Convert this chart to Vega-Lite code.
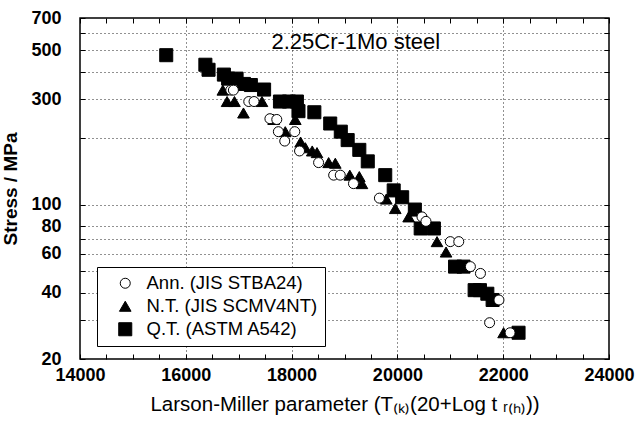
{
  "$schema": "https://vega.github.io/schema/vega-lite/v6.json",
  "width": 529,
  "height": 341,
  "autosize": "none",
  "padding": {"left": 80, "top": 18, "right": 28, "bottom": 62},
  "background": "white",
  "config": {
    "view": {"stroke": "black", "strokeWidth": 1.5},
    "font": "Liberation Sans",
    "text": {"font": "Liberation Sans"},
    "legend": {"title": null, "orient": "none", "legendX": 17, "legendY": 249, "strokeColor": "black", "strokeWidth": 1, "padding": 7, "labelFontSize": 18.5, "labelColor": "black", "labelLimit": 400, "symbolStrokeColor": "black", "symbolStrokeWidth": 1, "rowPadding": 4, "symbolOffset": 12, "labelOffset": 12, "fillColor": "white"}
  },
  "datasets": {
    "pts": [
      {"lmp": 15630, "stress": 475, "type": "Q.T. (ASTM A542)"},
      {"lmp": 16370, "stress": 430, "type": "Q.T. (ASTM A542)"},
      {"lmp": 16430, "stress": 408, "type": "Q.T. (ASTM A542)"},
      {"lmp": 16720, "stress": 388, "type": "Q.T. (ASTM A542)"},
      {"lmp": 16800, "stress": 372, "type": "Q.T. (ASTM A542)"},
      {"lmp": 16960, "stress": 372, "type": "Q.T. (ASTM A542)"},
      {"lmp": 17100, "stress": 352, "type": "Q.T. (ASTM A542)"},
      {"lmp": 17230, "stress": 348, "type": "Q.T. (ASTM A542)"},
      {"lmp": 17480, "stress": 332, "type": "Q.T. (ASTM A542)"},
      {"lmp": 17780, "stress": 293, "type": "Q.T. (ASTM A542)"},
      {"lmp": 17950, "stress": 293, "type": "Q.T. (ASTM A542)"},
      {"lmp": 18100, "stress": 293, "type": "Q.T. (ASTM A542)"},
      {"lmp": 18130, "stress": 265, "type": "Q.T. (ASTM A542)"},
      {"lmp": 18430, "stress": 262, "type": "Q.T. (ASTM A542)"},
      {"lmp": 18730, "stress": 233, "type": "Q.T. (ASTM A542)"},
      {"lmp": 18930, "stress": 214, "type": "Q.T. (ASTM A542)"},
      {"lmp": 19060, "stress": 196, "type": "Q.T. (ASTM A542)"},
      {"lmp": 19280, "stress": 177, "type": "Q.T. (ASTM A542)"},
      {"lmp": 19440, "stress": 157, "type": "Q.T. (ASTM A542)"},
      {"lmp": 19770, "stress": 136, "type": "Q.T. (ASTM A542)"},
      {"lmp": 19930, "stress": 116, "type": "Q.T. (ASTM A542)"},
      {"lmp": 20090, "stress": 108, "type": "Q.T. (ASTM A542)"},
      {"lmp": 20330, "stress": 95, "type": "Q.T. (ASTM A542)"},
      {"lmp": 20440, "stress": 78, "type": "Q.T. (ASTM A542)"},
      {"lmp": 20690, "stress": 78, "type": "Q.T. (ASTM A542)"},
      {"lmp": 21090, "stress": 52.4, "type": "Q.T. (ASTM A542)"},
      {"lmp": 21250, "stress": 52.4, "type": "Q.T. (ASTM A542)"},
      {"lmp": 21460, "stress": 41, "type": "Q.T. (ASTM A542)"},
      {"lmp": 21560, "stress": 41, "type": "Q.T. (ASTM A542)"},
      {"lmp": 21700, "stress": 39.5, "type": "Q.T. (ASTM A542)"},
      {"lmp": 21800, "stress": 37, "type": "Q.T. (ASTM A542)"},
      {"lmp": 22290, "stress": 26.3, "type": "Q.T. (ASTM A542)"},
      {"lmp": 16700, "stress": 330, "type": "N.T. (JIS SCMV4NT)"},
      {"lmp": 16780, "stress": 293, "type": "N.T. (JIS SCMV4NT)"},
      {"lmp": 16920, "stress": 293, "type": "N.T. (JIS SCMV4NT)"},
      {"lmp": 17090, "stress": 260, "type": "N.T. (JIS SCMV4NT)"},
      {"lmp": 17440, "stress": 293, "type": "N.T. (JIS SCMV4NT)"},
      {"lmp": 17660, "stress": 243, "type": "N.T. (JIS SCMV4NT)"},
      {"lmp": 18070, "stress": 243, "type": "N.T. (JIS SCMV4NT)"},
      {"lmp": 17880, "stress": 214, "type": "N.T. (JIS SCMV4NT)"},
      {"lmp": 18170, "stress": 192, "type": "N.T. (JIS SCMV4NT)"},
      {"lmp": 18260, "stress": 181, "type": "N.T. (JIS SCMV4NT)"},
      {"lmp": 18390, "stress": 175, "type": "N.T. (JIS SCMV4NT)"},
      {"lmp": 18480, "stress": 172, "type": "N.T. (JIS SCMV4NT)"},
      {"lmp": 18700, "stress": 155, "type": "N.T. (JIS SCMV4NT)"},
      {"lmp": 18826, "stress": 154, "type": "N.T. (JIS SCMV4NT)"},
      {"lmp": 19100, "stress": 136, "type": "N.T. (JIS SCMV4NT)"},
      {"lmp": 19280, "stress": 134, "type": "N.T. (JIS SCMV4NT)"},
      {"lmp": 19330, "stress": 124.5, "type": "N.T. (JIS SCMV4NT)"},
      {"lmp": 19790, "stress": 106, "type": "N.T. (JIS SCMV4NT)"},
      {"lmp": 19960, "stress": 96, "type": "N.T. (JIS SCMV4NT)"},
      {"lmp": 20212, "stress": 88, "type": "N.T. (JIS SCMV4NT)"},
      {"lmp": 20749, "stress": 68, "type": "N.T. (JIS SCMV4NT)"},
      {"lmp": 20920, "stress": 61, "type": "N.T. (JIS SCMV4NT)"},
      {"lmp": 22007, "stress": 26.3, "type": "N.T. (JIS SCMV4NT)"},
      {"lmp": 16850, "stress": 330, "type": "Ann. (JIS STBA24)"},
      {"lmp": 16900, "stress": 330, "type": "Ann. (JIS STBA24)"},
      {"lmp": 17190, "stress": 293, "type": "Ann. (JIS STBA24)"},
      {"lmp": 17290, "stress": 293, "type": "Ann. (JIS STBA24)"},
      {"lmp": 17590, "stress": 245, "type": "Ann. (JIS STBA24)"},
      {"lmp": 17720, "stress": 243, "type": "Ann. (JIS STBA24)"},
      {"lmp": 17750, "stress": 214, "type": "Ann. (JIS STBA24)"},
      {"lmp": 18060, "stress": 214, "type": "Ann. (JIS STBA24)"},
      {"lmp": 17870, "stress": 194, "type": "Ann. (JIS STBA24)"},
      {"lmp": 18150, "stress": 175, "type": "Ann. (JIS STBA24)"},
      {"lmp": 18510, "stress": 155, "type": "Ann. (JIS STBA24)"},
      {"lmp": 18795, "stress": 136, "type": "Ann. (JIS STBA24)"},
      {"lmp": 18920, "stress": 136, "type": "Ann. (JIS STBA24)"},
      {"lmp": 19170, "stress": 124.5, "type": "Ann. (JIS STBA24)"},
      {"lmp": 19660, "stress": 107, "type": "Ann. (JIS STBA24)"},
      {"lmp": 20465, "stress": 88, "type": "Ann. (JIS STBA24)"},
      {"lmp": 20540, "stress": 84, "type": "Ann. (JIS STBA24)"},
      {"lmp": 21000, "stress": 68, "type": "Ann. (JIS STBA24)"},
      {"lmp": 21160, "stress": 68, "type": "Ann. (JIS STBA24)"},
      {"lmp": 21380, "stress": 52.4, "type": "Ann. (JIS STBA24)"},
      {"lmp": 21570, "stress": 48.8, "type": "Ann. (JIS STBA24)"},
      {"lmp": 21920, "stress": 37, "type": "Ann. (JIS STBA24)"},
      {"lmp": 21743, "stress": 29.2, "type": "Ann. (JIS STBA24)"},
      {"lmp": 22130, "stress": 26.3, "type": "Ann. (JIS STBA24)"}
    ]
  },
  "layer": [
    {
      "data": {"name": "pts"},
      "mark": {"type": "point", "strokeWidth": 1, "opacity": 1},
      "encoding": {
        "x": {
          "field": "lmp", "type": "quantitative",
          "scale": {"domain": [14000, 24000], "nice": false, "zero": false},
          "axis": {
            "orient": "bottom",
            "title": "Larson-Miller parameter  (T₍ₖ₎(20+Log t ᵣ₍ₕ₎))",
            "titleFontSize": 20.5, "titleFontWeight": "normal", "titleColor": "black", "titlePadding": 10,
            "values": [14000,14500,15000,15500,16000,16500,17000,17500,18000,18500,19000,19500,20000,20500,21000,21500,22000,22500,23000,23500,24000],
            "format": "d",
            "labelExpr": "datum.value % 2000 === 0 ? datum.label : ''",
            "labelFontSize": 18, "labelFontWeight": "bold", "labelColor": "black", "labelPadding": 12,
            "labelFlush": false, "labelOverlap": false,
            "domain": false,
            "tickSize": -5, "tickColor": "black", "tickWidth": 1,
            "grid": true,
            "gridColor": {"condition": {"test": "datum.value % 2000 === 0 && datum.value > 14000 && datum.value < 24000", "value": "#222"}, "value": "transparent"},
            "gridDash": [1, 3], "gridWidth": 1
          }
        },
        "y": {
          "field": "stress", "type": "quantitative",
          "scale": {"type": "log", "domain": [20, 700], "nice": false},
          "axis": {
            "orient": "left",
            "title": "Stress  / MPa",
            "titleFontSize": 19, "titleFontWeight": "bold", "titleColor": "black", "titlePadding": 10,
            "values": [20,30,40,50,60,70,80,100,200,300,400,500,600,700],
            "labelExpr": "indexof([20,40,60,80,100,300,500,700], datum.value) >= 0 ? datum.label : ''",
            "format": "d",
            "labelFontSize": 18, "labelFontWeight": "bold", "labelColor": "black", "labelPadding": 24,
            "labelFlush": false, "labelOverlap": false,
            "domain": false,
            "tickSize": -5, "tickColor": "black",
            "grid": true,
            "gridColor": {"condition": {"test": "datum.value > 20 && datum.value < 700", "value": "#222"}, "value": "transparent"},
            "gridDash": [1, 3], "gridWidth": 1
          }
        },
        "shape": {
          "field": "type", "type": "nominal",
          "scale": {"domain": ["Ann. (JIS STBA24)", "N.T. (JIS SCMV4NT)", "Q.T. (ASTM A542)"], "range": ["circle", "triangle-up", "square"]}
        },
        "fill": {
          "field": "type", "type": "nominal",
          "scale": {"domain": ["Ann. (JIS STBA24)", "N.T. (JIS SCMV4NT)", "Q.T. (ASTM A542)"], "range": ["white", "black", "black"]}
        },
        "stroke": {
          "field": "type", "type": "nominal",
          "scale": {"domain": ["Ann. (JIS STBA24)", "N.T. (JIS SCMV4NT)", "Q.T. (ASTM A542)"], "range": ["black", "black", "black"]}
        },
        "size": {
          "field": "type", "type": "nominal",
          "scale": {"domain": ["Ann. (JIS STBA24)", "N.T. (JIS SCMV4NT)", "Q.T. (ASTM A542)"], "range": [100, 170, 150]}
        }
      }
    },
    {
      "data": {"name": "pts"},
      "mark": {"type": "point", "opacity": 0},
      "encoding": {
        "x": {
          "field": "lmp", "type": "quantitative",
          "axis": {
            "orient": "top", "title": null, "labels": false, "domain": false, "grid": false,
            "values": [14000,14500,15000,15500,16000,16500,17000,17500,18000,18500,19000,19500,20000,20500,21000,21500,22000,22500,23000,23500,24000],
            "tickSize": -5, "tickColor": "black"
          }
        },
        "y": {
          "field": "stress", "type": "quantitative",
          "axis": {
            "orient": "right", "title": null, "labels": false, "domain": false, "grid": false,
            "values": [20,30,40,50,60,70,80,100,200,300,400,500,600,700],
            "tickSize": -5, "tickColor": "black"
          }
        }
      }
    },
    {
      "data": {"values": [{}]},
      "mark": {"type": "text", "fontSize": 22, "color": "black", "align": "center", "baseline": "middle"},
      "encoding": {
        "x": {"datum": 19214, "type": "quantitative", "axis": null},
        "y": {"datum": 545, "type": "quantitative", "axis": null},
        "text": {"value": "2.25Cr-1Mo steel"}
      }
    }
  ],
  "resolve": {"axis": {"x": "independent", "y": "independent"}}
}
